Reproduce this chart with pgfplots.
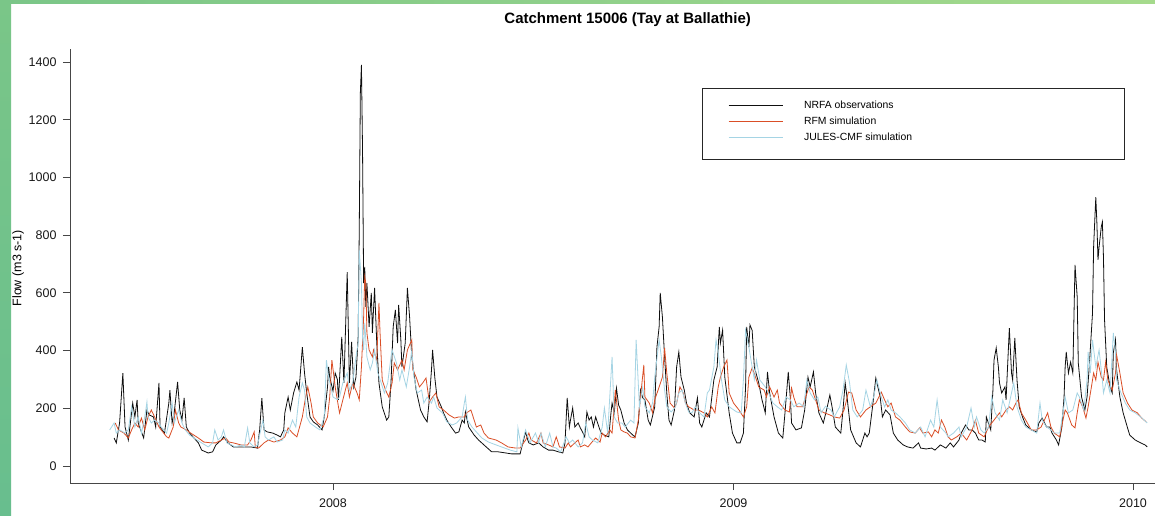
\documentclass[border=0pt]{standalone}
\usepackage{fontspec}
\setmainfont{Liberation Sans}
\usepackage{pgfplots}
\pgfplotsset{compat=1.18}
\definecolor{obs}{RGB}{15,15,15}
\definecolor{rfm}{RGB}{218,78,38}
\definecolor{jules}{RGB}{165,212,228}
\definecolor{axgray}{RGB}{70,70,70}
\definecolor{gTL}{RGB}{122,198,136}
\definecolor{gTR}{RGB}{165,218,140}
\definecolor{gBL}{RGB}{104,190,142}
\begin{document}
\begin{tikzpicture}[x=1pt,y=1pt]
\useasboundingbox (0,0) rectangle (1155,515);
\fill[white] (0,0) rectangle (1155,515);
\shade[left color=gTL, right color=gTR] (0,511) rectangle (1155,515);
\shade[top color=gTL, bottom color=gBL] (0,0) rectangle (11,515);
\begin{axis}[
  at={(70pt,32pt)}, anchor=south west,
  scale only axis, width=1085pt, height=434pt,
  xmin=124.7, xmax=1116.1, ymin=-59, ymax=1445,
  axis x line*=bottom, axis y line*=left,
  axis line style={-, draw=axgray, line width=0.9pt},
  tick align=outside, major tick length=7pt,
  tick style={draw=axgray, line width=0.8pt},
  xtick={365,731,1096}, xticklabels={2008,2009,2010},
  ytick={0,200,400,600,800,1000,1200,1400},
  /pgf/number format/assume math mode=true,
  /pgf/number format/set thousands separator={},
  ticklabel style={font=\fontsize{12.5}{15}\selectfont, text=black!90},
  xticklabel style={yshift=-5pt},
  yticklabel style={xshift=-3pt},
  title={Catchment 15006 (Tay at Ballathie)},
  title style={at={(axis description cs:0.514,1)}, anchor=center, yshift=23pt, font=\fontsize{15}{18}\selectfont\bfseries},
  ylabel={Flow (m3 s-1)},
  ylabel style={at={(axis description cs:-0.0479,0.495)}, anchor=center, font=\fontsize{12.5}{15}\selectfont},
  legend cell align=left,
  legend image code/.code={\draw[#1] (0pt,0pt) -- (54pt,0pt); \path (74pt,0pt);},
  legend style={draw=none, fill=none, inner sep=0pt, at={(axis description cs:0.6065,0.883)}, anchor=north west,
    font=\fontsize{10.4}{12}\selectfont, row sep=5pt, nodes={inner sep=1pt}},
]
\addplot[obs, line width=0.8pt] coordinates {
(165,97)(167,80)(170,149)(173,322)(175,135)(178,90)(182,218)(184,170)(186,229)(187,149)
(192,97)(195,194)(197,177)(201,170)(203,135)(206,288)(207,135)(211,114)(215,218)(216,263)
(218,149)(220,187)(223,291)(225,194)(227,159)(229,236)(231,135)(234,114)(238,97)(242,80)
(245,55)(251,45)(255,49)(258,73)(263,90)(265,101)(269,80)(274,66)(278,66)(284,66)
(290,66)(296,62)(298,125)(300,235)(302,125)(305,118)(310,114)(314,107)(317,101)(320,125)
(321,184)(324,239)(326,194)(329,253)(332,291)(334,263)(337,412)(339,322)(341,253)(344,170)
(347,153)(351,142)(355,125)(357,170)(360,274)(361,343)(362,308)(365,260)(367,322)(369,300)
(370,229)(373,447)(375,288)(378,672)(380,288)(381,357)(382,430)(384,274)(386,308)(388,447)
(389,818)(390,1293)(391,1390)(392,1095)(393,634)(394,690)(395,551)(396,634)(398,482)(400,600)
(401,461)(403,617)(405,426)(407,288)(410,205)(414,159)(416,170)(418,288)(420,482)(422,541)
(424,426)(425,558)(427,437)(428,343)(431,426)(433,617)(435,516)(437,378)(441,263)(445,194)
(448,170)(451,153)(453,229)(455,333)(456,402)(458,308)(460,239)(464,205)(466,184)(469,159)
(473,135)(477,114)(480,118)(483,159)(485,149)(486,187)(489,135)(494,107)(498,90)(505,66)
(510,49)(516,49)(523,45)(528,42)(536,42)(538,73)(541,118)(543,90)(544,80)(548,73)
(553,80)(557,66)(562,55)(566,55)(571,49)(575,45)(577,80)(579,236)(581,135)(582,159)
(584,201)(586,135)(589,149)(591,132)(593,118)(595,101)(597,187)(599,159)(601,170)(603,135)
(605,170)(608,135)(610,114)(613,107)(617,101)(619,184)(620,218)(622,184)(624,270)(626,211)
(628,194)(631,149)(634,125)(639,107)(641,101)(644,149)(646,263)(648,236)(650,229)(653,159)
(655,142)(659,205)(661,412)(663,482)(664,600)(666,516)(668,378)(670,253)(672,159)(674,142)
(677,194)(679,343)(681,395)(683,308)(686,263)(688,218)(691,184)(695,170)(698,236)(700,149)
(702,135)(706,184)(709,170)(713,298)(716,343)(718,482)(719,426)(721,471)(723,308)(727,184)
(730,114)(734,80)(737,80)(740,114)(742,274)(743,482)(745,412)(746,489)(748,470)(750,343)
(754,288)(757,229)(760,184)(762,326)(764,253)(768,170)(772,114)(776,97)(778,184)(781,326)
(783,229)(784,149)(788,125)(793,132)(796,194)(799,308)(801,274)(804,326)(806,253)(809,184)
(813,149)(816,194)(819,246)(821,205)(824,135)(829,114)(831,194)(833,288)(835,229)(838,125)
(843,80)(847,66)(851,114)(853,101)(855,114)(858,205)(861,305)(865,239)(867,170)(870,194)
(874,177)(877,114)(881,90)(886,73)(890,66)(895,62)(900,80)(902,62)(907,59)(912,62)
(915,55)(920,73)(925,62)(929,80)(932,66)(937,90)(939,114)(943,142)(946,125)(949,125)
(952,114)(955,90)(958,90)(961,83)(962,170)(966,125)(968,263)(969,367)(971,409)(973,343)
(974,288)(976,253)(979,274)(980,229)(983,478)(985,322)(986,298)(988,444)(990,298)(992,205)
(995,170)(998,142)(1003,125)(1008,118)(1010,149)(1013,166)(1017,135)(1020,135)(1022,114)(1026,90)
(1028,73)(1031,135)(1033,239)(1034,343)(1035,395)(1037,322)(1039,360)(1041,322)(1043,697)(1045,586)
(1046,357)(1049,239)(1052,194)(1054,239)(1056,343)(1059,530)(1060,759)(1062,932)(1063,842)(1064,714)
(1065,759)(1067,828)(1068,846)(1069,724)(1070,506)(1072,343)(1075,274)(1077,253)(1078,392)(1080,437)
(1081,333)(1084,239)(1087,184)(1091,132)(1093,107)(1098,90)(1103,80)(1107,73)(1109,66)
};
\addlegendentry{NRFA observations}
\addplot[rfm, line width=0.8pt] coordinates {
(166,149)(169,125)(174,114)(178,97)(181,125)(184,149)(187,135)(190,166)(193,125)(196,170)
(199,194)(202,170)(206,135)(208,125)(213,101)(215,97)(219,135)(221,194)(224,149)(226,135)
(231,125)(235,114)(242,97)(247,83)(254,80)(258,80)(263,90)(267,97)(270,83)(274,80)
(281,73)(287,73)(290,90)(293,118)(294,66)(297,62)(302,80)(306,90)(311,83)(317,90)
(321,101)(324,132)(328,114)(332,101)(337,170)(340,239)(342,274)(345,218)(347,170)(351,149)
(356,135)(360,170)(362,239)(364,367)(367,274)(370,205)(371,184)(374,229)(378,288)(380,239)
(383,288)(387,253)(389,229)(391,343)(393,516)(394,655)(395,634)(396,461)(398,402)(401,378)
(402,402)(405,367)(407,565)(408,461)(410,298)(413,263)(416,239)(419,288)(421,357)(424,333)
(428,367)(430,333)(433,402)(437,437)(438,333)(441,308)(444,274)(447,288)(450,305)(453,222)
(456,239)(459,253)(462,205)(466,194)(471,177)(476,166)(480,170)(485,170)(487,184)(491,194)
(494,159)(496,135)(500,142)(503,114)(507,97)(514,90)(519,80)(525,66)(532,62)(536,62)
(541,90)(544,114)(546,90)(551,80)(555,114)(557,80)(562,73)(566,66)(569,101)(572,66)
(577,62)(580,80)(582,66)(586,80)(589,90)(591,66)(595,73)(598,66)(601,80)(605,97)
(609,83)(611,114)(614,101)(618,125)(620,114)(623,263)(626,159)(628,125)(631,118)(634,114)
(637,101)(641,97)(644,159)(646,239)(649,350)(650,239)(654,218)(657,184)(659,229)(663,274)
(666,308)(668,409)(670,322)(673,218)(677,201)(679,218)(682,274)(685,253)(687,218)(690,205)
(695,194)(699,194)(704,184)(707,170)(711,205)(714,184)(717,274)(719,308)(722,343)(725,367)
(727,253)(731,218)(736,194)(740,170)(743,205)(745,308)(748,340)(750,320)(754,274)(759,263)
(761,239)(764,274)(768,239)(771,263)(773,218)(778,194)(782,187)(784,270)(786,239)(789,205)
(794,205)(796,229)(800,274)(803,263)(806,229)(809,194)(814,184)(819,177)(823,170)(828,166)
(832,194)(836,256)(839,253)(843,194)(847,170)(852,194)(856,205)(861,218)(866,256)(869,229)
(872,205)(875,218)(879,170)(883,159)(888,135)(892,118)(897,114)(901,132)(904,114)(909,118)
(912,101)(915,125)(918,114)(921,159)(924,135)(927,101)(930,90)(935,101)(939,114)(944,90)
(949,125)(952,159)(955,114)(960,101)(964,135)(969,159)(974,184)(976,170)(980,194)(983,205)
(986,194)(989,218)(991,229)(994,184)(998,159)(1003,125)(1008,125)(1012,135)(1015,159)(1018,184)
(1021,135)(1024,114)(1029,101)(1032,159)(1034,194)(1036,184)(1040,142)(1043,132)(1045,184)(1047,229)
(1050,205)(1053,166)(1055,205)(1058,274)(1060,322)(1062,298)(1064,360)(1067,308)(1069,298)(1071,360)
(1073,298)(1077,263)(1080,322)(1081,385)(1084,322)(1087,253)(1091,218)(1095,194)(1100,184)(1104,166)
(1108,153)
};
\addlegendentry{RFM simulation}
\addplot[jules, line width=0.8pt] coordinates {
(161,125)(165,149)(167,114)(170,125)(175,114)(178,125)(181,205)(184,135)(187,170)(190,114)
(193,170)(195,222)(196,170)(199,149)(202,159)(206,149)(208,135)(213,114)(215,149)(218,218)
(220,149)(224,194)(227,149)(230,125)(234,107)(238,97)(245,80)(251,66)(255,80)(257,125)
(260,90)(263,101)(265,125)(268,80)(272,73)(276,66)(281,73)(284,66)(287,132)(289,80)
(293,66)(296,73)(299,125)(301,159)(303,101)(306,90)(311,101)(314,83)(319,90)(321,125)
(324,114)(328,159)(331,135)(334,239)(337,288)(339,263)(341,170)(344,149)(349,135)(353,125)
(357,170)(359,367)(361,308)(363,274)(365,239)(369,230)(371,239)(374,288)(378,322)(380,263)
(383,288)(386,378)(388,426)(389,749)(391,634)(392,447)(393,402)(394,496)(396,378)(399,333)
(401,357)(403,402)(406,322)(409,288)(412,253)(415,288)(418,378)(419,402)(423,357)(426,298)
(428,333)(432,274)(435,343)(437,402)(439,308)(442,253)(446,263)(448,218)(451,239)(455,218)
(457,239)(460,201)(465,184)(469,153)(474,142)(478,149)(483,170)(485,218)(486,239)(488,159)
(492,135)(496,118)(501,97)(507,83)(514,73)(519,66)(527,55)(533,49)(534,132)(537,66)
(541,125)(545,80)(550,114)(553,80)(555,114)(559,66)(563,114)(566,66)(569,62)(573,49)
(578,101)(581,80)(584,90)(589,66)(593,80)(596,149)(599,101)(602,90)(607,80)(611,135)
(613,201)(616,114)(620,378)(622,170)(625,149)(629,149)(632,135)(637,159)(640,149)(642,437)
(645,205)(648,274)(650,205)(654,184)(657,218)(659,308)(663,437)(665,378)(668,263)(670,205)
(674,187)(678,205)(681,253)(684,263)(687,218)(690,187)(693,184)(696,205)(700,184)(704,170)
(707,253)(709,263)(713,343)(715,437)(717,392)(720,298)(723,229)(727,205)(734,187)(738,184)
(740,298)(742,471)(745,412)(748,343)(750,300)(752,367)(755,298)(760,274)(763,253)(767,218)
(771,205)(775,194)(779,239)(783,229)(786,205)(791,218)(795,205)(798,298)(801,253)(805,229)
(808,239)(811,184)(815,207)(820,194)(823,170)(828,205)(831,263)(834,350)(837,288)(840,194)
(844,170)(849,194)(852,263)(856,205)(859,239)(862,298)(866,239)(869,205)(872,229)(875,194)
(879,184)(883,170)(888,149)(892,125)(897,114)(902,135)(906,101)(911,159)(914,135)(917,229)
(920,135)(925,114)(927,101)(932,114)(937,135)(939,101)(944,135)(948,201)(951,135)(953,170)
(957,125)(960,114)(964,135)(967,239)(970,184)(974,159)(977,229)(981,184)(985,253)(987,288)
(990,205)(994,159)(998,135)(1003,125)(1008,114)(1011,218)(1013,159)(1017,135)(1021,125)(1024,114)
(1029,114)(1032,184)(1034,239)(1037,184)(1041,194)(1045,253)(1047,239)(1051,194)(1054,298)(1055,395)
(1057,322)(1059,437)(1062,343)(1065,402)(1068,298)(1069,253)(1072,298)(1075,253)(1078,461)(1080,392)
(1081,298)(1085,253)(1089,218)(1093,194)(1098,184)(1103,170)(1109,149)
};
\addlegendentry{JULES-CMF simulation}
\draw[black!85, line width=0.8pt] (axis description cs:0.5825,0.910) rectangle (axis description cs:0.9714,0.7465);
\end{axis}
\end{tikzpicture}
\end{document}
